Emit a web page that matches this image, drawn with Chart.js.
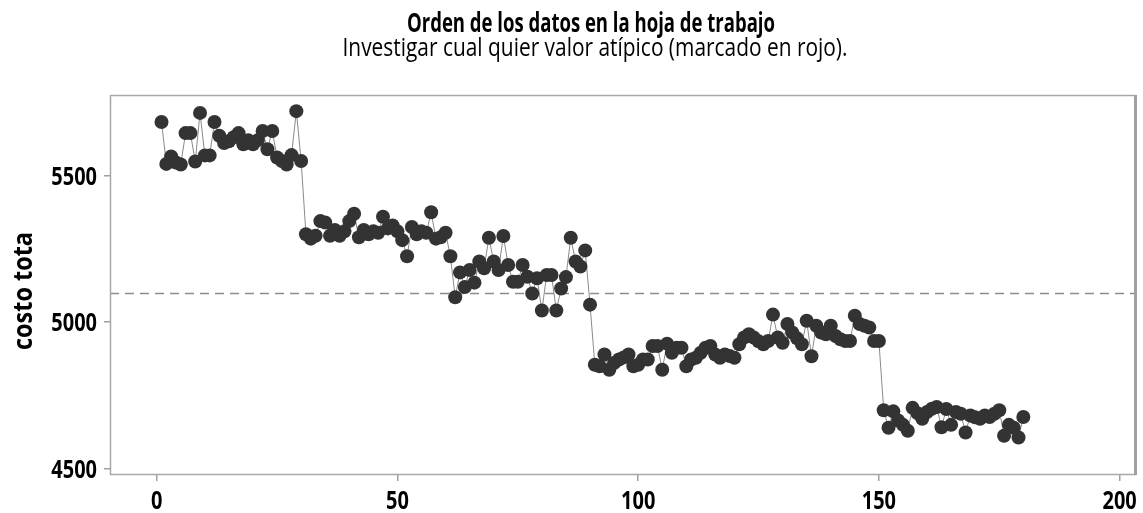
<!DOCTYPE html>
<html>
<head>
<meta charset="utf-8">
<script src="https://cdn.jsdelivr.net/npm/chart.js@4"></script>
<style>
  html, body { margin: 0; padding: 0; background: #fff; }
  #wrap { width: 1143px; height: 513px; }
</style>
</head>
<body>
<div id="wrap"><canvas id="chart" width="1143" height="513"></canvas></div>
<script>
"use strict";

// ---------- Data ----------
const costo = [
  5683, 5540, 5565, 5545, 5538, 5645, 5645, 5548, 5714, 5569, 5569, 5683, 5636, 5611, 5617,
  5631, 5645, 5607, 5621, 5607, 5621, 5652, 5590, 5652, 5562, 5550, 5538, 5570, 5720, 5550,
  5300, 5285, 5295, 5345, 5340, 5295, 5315, 5295, 5310, 5345, 5370, 5290, 5315, 5300, 5310,
  5305, 5360, 5320, 5330, 5310, 5280, 5225, 5325, 5300, 5310, 5305, 5375, 5285, 5290, 5305,
  5225, 5085, 5170, 5120, 5178, 5135, 5207, 5184, 5288, 5207, 5178, 5294, 5195, 5138, 5138,
  5195, 5155, 5098, 5150, 5040, 5161, 5161, 5040, 5115, 5154, 5288, 5207, 5190, 5245, 5060,
  4855, 4850, 4890, 4838, 4861, 4873, 4880, 4890, 4850, 4855, 4873, 4873, 4919, 4919, 4838,
  4927, 4896, 4913, 4913, 4850, 4873, 4879, 4896, 4913, 4919, 4890, 4879, 4890, 4885, 4879,
  4925, 4948, 4959, 4948, 4935, 4925, 4936, 5026, 4948, 4930, 4994, 4965, 4945, 4925, 5005,
  4884, 4988, 4965, 4959, 4988, 4953, 4942, 4936, 4936, 5022, 4994, 4988, 4982, 4936, 4936,
  4700, 4640, 4696, 4665, 4650, 4630, 4708, 4690, 4671, 4694, 4705, 4711, 4642, 4704, 4650,
  4694, 4688, 4624, 4682, 4676, 4671, 4682, 4677, 4688, 4700, 4613, 4650, 4640, 4607, 4677,
];
const orden = costo.map((_, i) => i + 1); // worksheet row order
const xTicks = [0, 50, 100, 150, 200];
const yTicks = [4500, 5000, 5500];

const titulo = "Orden de los datos en la hoja de trabajo";
const subtitulo = "Investigar cual quier valor atípico (marcado en rojo).";
const ejeY = "costo tota";

// reference line = mean of the data
const media = costo.reduce((a, b) => a + b, 0) / costo.length;

// ---------- Helpers ----------
// the reference uses a narrow face, so text is squeezed horizontally
function drawText(ctx, text, x, y, opts) {
  ctx.save();
  ctx.font = opts.font;
  const w = ctx.measureText(text).width;
  const sx = opts.width ? opts.width / w : opts.sx;
  ctx.translate(x, y);
  if (opts.rotate) ctx.rotate(-Math.PI / 2);
  ctx.scale(sx, 1);
  ctx.textAlign = opts.align || "center";
  ctx.textBaseline = opts.baseline || "alphabetic";
  ctx.fillStyle = "#000";
  ctx.fillText(text, 0, 0);
  ctx.restore();
}

const TICK_FONT = "bold 25px 'Open Sans', sans-serif";
const TICK_SX = 0.8;

const decor = {
  id: "decor",
  beforeDatasetsDraw(chart) {
    const { ctx, chartArea: a, scales } = chart;
    // mean reference line
    const y = Math.round(scales.y.getPixelForValue(media)) + 0.5;
    ctx.save();
    ctx.strokeStyle = "#8c8c8c";
    ctx.lineWidth = 1.5;
    ctx.setLineDash([9, 6]);
    ctx.beginPath();
    ctx.moveTo(a.left, y);
    ctx.lineTo(a.right, y);
    ctx.stroke();
    ctx.restore();
  },
  afterDraw(chart) {
    const { ctx, chartArea: a, scales } = chart;
    // frame
    ctx.save();
    ctx.strokeStyle = "#a8a8a8";
    ctx.lineWidth = 1.5;
    ctx.strokeRect(a.left + 0.5, a.top + 0.5, a.right - a.left - 1, a.bottom - a.top - 1);
    ctx.fillStyle = "#a0a0a0";
    ctx.fillRect(a.right - 2, a.top, 3, a.bottom - a.top);
    ctx.restore();

    // tick labels from the scales' own ticks
    scales.x.ticks.forEach((t) => {
      drawText(ctx, String(t.value), scales.x.getPixelForValue(t.value), 509, { font: TICK_FONT, sx: TICK_SX });
    });
    scales.y.ticks.forEach((t) => {
      drawText(ctx, String(t.value), 97, scales.y.getPixelForValue(t.value) + 9, { font: TICK_FONT, sx: TICK_SX, align: "right" });
    });

    // titles
    drawText(ctx, titulo, 591, 32, { font: "bold 26px 'Open Sans', sans-serif", width: 368 });
    drawText(ctx, subtitulo, 595, 56, { font: "25px 'Open Sans', sans-serif", width: 505 });
    drawText(ctx, ejeY, 32, 291, { font: "bold 27px 'Open Sans', sans-serif", width: 118, rotate: true });
  },
};

// ---------- Chart ----------
new Chart(document.getElementById("chart"), {
  type: "line",
  data: {
    datasets: [{
      data: orden.map((x, i) => ({ x, y: costo[i] })),
      borderColor: "#8a8a8a",
      borderWidth: 1,
      pointBackgroundColor: "#333333",
      pointBorderWidth: 0,
      pointRadius: 7,
      pointHoverRadius: 7,
      tension: 0,
    }],
  },
  options: {
    responsive: false,
    animation: false,
    events: [],
    layout: { padding: { top: 95, right: 5, bottom: 0, left: 0 } },
    plugins: { legend: { display: false }, tooltip: { enabled: false }, title: { display: false } },
    scales: {
      x: {
        type: "linear",
        min: -9.7,
        max: 203.4,
        afterBuildTicks: (s) => { s.ticks = xTicks.map((v) => ({ value: v })); },
        afterFit: (s) => { s.height = 38; },
        grid: { drawOnChartArea: false, tickLength: 6, color: "#a0a0a0", lineWidth: 1.5 },
        border: { display: false },
        ticks: { display: false },
      },
      y: {
        min: 4479,
        max: 5775,
        afterBuildTicks: (s) => { s.ticks = yTicks.map((v) => ({ value: v })); },
        afterFit: (s) => { s.width = 110; },
        grid: { drawOnChartArea: false, tickLength: 6, color: "#a0a0a0", lineWidth: 1.5 },
        border: { display: false },
        ticks: { display: false },
      },
    },
  },
  plugins: [decor],
});
</script>
</body>
</html>
